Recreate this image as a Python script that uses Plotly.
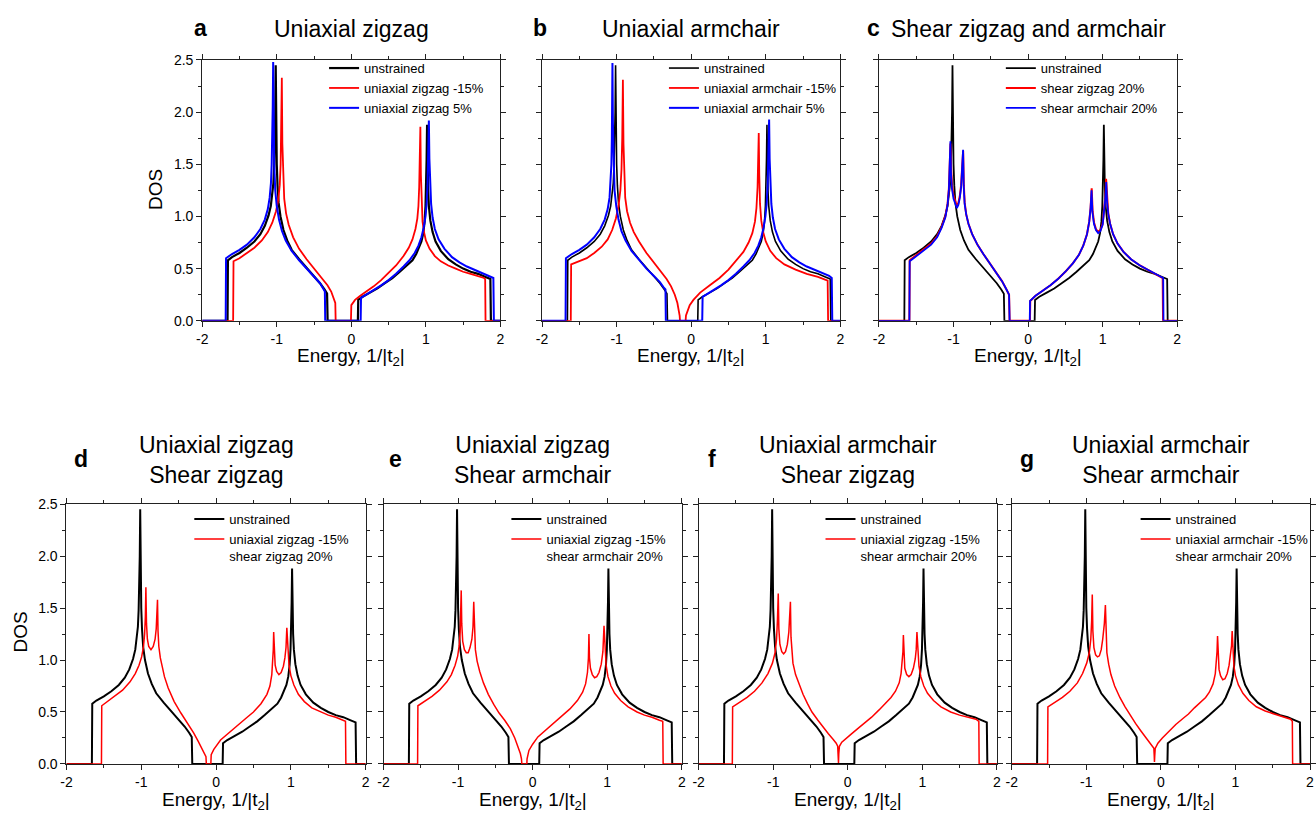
import plotly.graph_objects as go

# ---------------------------------------------------------------------------
# Density of states curves, (energy in 1/|t2|, DOS)
# ---------------------------------------------------------------------------
UNSTRAINED = [
    (-2.00, 0.00), (-1.660, 0.00), (-1.655, 0.58), (-1.60, 0.61), (-1.50, 0.65),
    (-1.40, 0.70), (-1.30, 0.76), (-1.22, 0.83), (-1.16, 0.91), (-1.11, 1.01),
    (-1.08, 1.10), (-1.06, 1.20), (-1.045, 1.32), (-1.035, 1.48), (-1.027, 1.70),
    (-1.020, 2.00), (-1.014, 2.45), (-1.008, 1.85), (-1.000, 1.50), (-0.990, 1.30),
    (-0.975, 1.13), (-0.95, 1.00), (-0.91, 0.87), (-0.86, 0.77), (-0.80, 0.68),
    (-0.70, 0.59), (-0.60, 0.51), (-0.50, 0.43), (-0.42, 0.36), (-0.36, 0.30),
    (-0.325, 0.26), (-0.318, 0.00), (0.088, 0.00), (0.093, 0.20), (0.15, 0.23),
    (0.25, 0.27), (0.35, 0.31), (0.45, 0.36), (0.55, 0.41), (0.65, 0.47),
    (0.75, 0.53), (0.82, 0.58), (0.87, 0.64), (0.91, 0.70), (0.94, 0.76),
    (0.965, 0.84), (0.983, 0.95), (0.995, 1.10), (1.004, 1.32), (1.010, 1.55),
    (1.016, 1.88), (1.022, 1.50), (1.030, 1.25), (1.040, 1.10), (1.06, 0.96),
    (1.09, 0.85), (1.13, 0.76), (1.20, 0.67), (1.30, 0.59), (1.40, 0.54),
    (1.50, 0.50), (1.60, 0.47), (1.70, 0.45), (1.80, 0.42), (1.865, 0.40),
    (1.872, 0.00), (2.00, 0.00),
]

UNIAXIAL_ZZ_M15 = [
    (-2.00, 0.00), (-1.585, 0.00), (-1.580, 0.57), (-1.50, 0.60), (-1.40, 0.65),
    (-1.30, 0.70), (-1.20, 0.77), (-1.12, 0.85), (-1.06, 0.94), (-1.01, 1.05),
    (-0.98, 1.16), (-0.96, 1.30), (-0.948, 1.50), (-0.940, 1.80), (-0.932, 2.33),
    (-0.925, 1.70), (-0.915, 1.35), (-0.90, 1.17), (-0.875, 1.03), (-0.84, 0.92),
    (-0.78, 0.80), (-0.70, 0.69), (-0.60, 0.59), (-0.50, 0.50), (-0.40, 0.42),
    (-0.32, 0.34), (-0.27, 0.28), (-0.235, 0.22), (-0.215, 0.17), (-0.210, 0.00),
    (-0.005, 0.00), (0.000, 0.15), (0.05, 0.20), (0.12, 0.24), (0.20, 0.28),
    (0.30, 0.33), (0.40, 0.39), (0.50, 0.46), (0.60, 0.53), (0.70, 0.62),
    (0.77, 0.70), (0.82, 0.78), (0.86, 0.88), (0.885, 0.98), (0.900, 1.10),
    (0.910, 1.28), (0.918, 1.50), (0.926, 1.86), (0.933, 1.40), (0.942, 1.10),
    (0.955, 0.95), (0.975, 0.85), (1.00, 0.77), (1.05, 0.69), (1.12, 0.62),
    (1.20, 0.57), (1.30, 0.53), (1.40, 0.50), (1.50, 0.47), (1.60, 0.45),
    (1.70, 0.43), (1.78, 0.41), (1.795, 0.40), (1.800, 0.00), (2.00, 0.00),
]

UNIAXIAL_ZZ_P5 = [
    (-2.00, 0.00), (-1.685, 0.00), (-1.680, 0.60), (-1.60, 0.64), (-1.50, 0.68),
    (-1.40, 0.73), (-1.30, 0.80), (-1.22, 0.88), (-1.16, 0.97), (-1.12, 1.07),
    (-1.095, 1.18), (-1.078, 1.32), (-1.068, 1.50), (-1.060, 1.75), (-1.054, 2.05),
    (-1.048, 2.48), (-1.042, 1.90), (-1.034, 1.50), (-1.020, 1.25), (-1.00, 1.10),
    (-0.97, 0.97), (-0.93, 0.86), (-0.88, 0.77), (-0.80, 0.67), (-0.70, 0.58),
    (-0.60, 0.50), (-0.50, 0.43), (-0.42, 0.36), (-0.37, 0.30), (-0.355, 0.28),
    (-0.350, 0.00), (0.125, 0.00), (0.130, 0.22), (0.20, 0.25), (0.30, 0.29),
    (0.40, 0.34), (0.50, 0.39), (0.60, 0.45), (0.70, 0.52), (0.78, 0.58),
    (0.85, 0.65), (0.90, 0.72), (0.94, 0.80), (0.97, 0.89), (0.995, 1.00),
    (1.010, 1.12), (1.022, 1.30), (1.032, 1.55), (1.040, 1.92), (1.047, 1.55),
    (1.055, 1.30), (1.07, 1.12), (1.09, 0.99), (1.12, 0.88), (1.17, 0.78),
    (1.25, 0.69), (1.35, 0.61), (1.45, 0.56), (1.55, 0.52), (1.65, 0.49),
    (1.75, 0.46), (1.85, 0.43), (1.905, 0.41), (1.912, 0.00), (2.00, 0.00),
]

UNIAXIAL_AC_M15 = [
    (-2.00, 0.00), (-1.615, 0.00), (-1.610, 0.54), (-1.50, 0.57), (-1.40, 0.60),
    (-1.30, 0.65), (-1.20, 0.71), (-1.12, 0.78), (-1.06, 0.87), (-1.01, 0.98),
    (-0.975, 1.10), (-0.95, 1.25), (-0.935, 1.45), (-0.925, 1.75), (-0.916, 2.31),
    (-0.908, 1.70), (-0.898, 1.35), (-0.885, 1.18), (-0.86, 1.05), (-0.82, 0.94),
    (-0.77, 0.85), (-0.70, 0.76), (-0.60, 0.65), (-0.50, 0.56), (-0.41, 0.48),
    (-0.33, 0.40), (-0.27, 0.33), (-0.22, 0.25), (-0.185, 0.17), (-0.165, 0.10),
    (-0.155, 0.05), (-0.150, 0.00), (-0.075, 0.00), (-0.070, 0.05), (-0.05, 0.10),
    (-0.02, 0.15), (0.03, 0.20), (0.12, 0.27), (0.25, 0.34), (0.38, 0.41),
    (0.50, 0.49), (0.60, 0.57), (0.70, 0.66), (0.77, 0.75), (0.82, 0.84),
    (0.855, 0.95), (0.875, 1.08), (0.890, 1.28), (0.899, 1.50), (0.906, 1.80),
    (0.913, 1.40), (0.923, 1.12), (0.94, 0.96), (0.965, 0.85), (1.00, 0.76),
    (1.06, 0.67), (1.14, 0.60), (1.25, 0.54), (1.40, 0.49), (1.55, 0.45),
    (1.70, 0.42), (1.80, 0.395), (1.830, 0.385), (1.836, 0.00), (2.00, 0.00),
]

UNIAXIAL_AC_P5 = [
    (-2.00, 0.00), (-1.685, 0.00), (-1.680, 0.60), (-1.60, 0.64), (-1.50, 0.68),
    (-1.40, 0.73), (-1.30, 0.80), (-1.22, 0.88), (-1.16, 0.97), (-1.12, 1.07),
    (-1.095, 1.18), (-1.080, 1.32), (-1.070, 1.50), (-1.064, 1.75), (-1.060, 2.05),
    (-1.056, 2.47), (-1.050, 1.90), (-1.042, 1.50), (-1.028, 1.25), (-1.005, 1.10),
    (-0.975, 0.97), (-0.935, 0.86), (-0.88, 0.77), (-0.80, 0.67), (-0.70, 0.58),
    (-0.60, 0.50), (-0.50, 0.43), (-0.42, 0.37), (-0.37, 0.32), (-0.345, 0.30),
    (-0.340, 0.00), (0.148, 0.00), (0.153, 0.23), (0.22, 0.26), (0.30, 0.29),
    (0.40, 0.34), (0.50, 0.39), (0.60, 0.45), (0.70, 0.52), (0.78, 0.58),
    (0.85, 0.65), (0.90, 0.72), (0.94, 0.80), (0.97, 0.89), (0.995, 1.00),
    (1.012, 1.12), (1.025, 1.30), (1.035, 1.55), (1.045, 1.93), (1.052, 1.55),
    (1.060, 1.30), (1.075, 1.12), (1.095, 0.99), (1.125, 0.88), (1.175, 0.78),
    (1.25, 0.69), (1.35, 0.61), (1.45, 0.56), (1.55, 0.52), (1.65, 0.49),
    (1.75, 0.46), (1.85, 0.43), (1.885, 0.41), (1.892, 0.00), (2.00, 0.00),
]

SHEAR_ZZ_20 = [
    (-2.00, 0.00), (-1.592, 0.00), (-1.588, 0.58), (-1.50, 0.63), (-1.40, 0.68),
    (-1.30, 0.74), (-1.22, 0.81), (-1.16, 0.90), (-1.11, 1.00), (-1.08, 1.12),
    (-1.062, 1.27), (-1.050, 1.45), (-1.041, 1.70), (-1.032, 1.45), (-1.020, 1.30),
    (-1.00, 1.20), (-0.975, 1.13), (-0.955, 1.10), (-0.935, 1.13), (-0.915, 1.20),
    (-0.898, 1.30), (-0.885, 1.42), (-0.871, 1.63), (-0.862, 1.30), (-0.850, 1.13),
    (-0.83, 1.02), (-0.80, 0.93), (-0.75, 0.83), (-0.68, 0.73), (-0.60, 0.64),
    (-0.50, 0.54), (-0.42, 0.46), (-0.35, 0.38), (-0.29, 0.30), (-0.255, 0.25),
    (-0.248, 0.00), (0.025, 0.00), (0.029, 0.19), (0.10, 0.24), (0.20, 0.29),
    (0.30, 0.34), (0.40, 0.40), (0.50, 0.47), (0.60, 0.55), (0.68, 0.63),
    (0.74, 0.72), (0.79, 0.83), (0.82, 0.95), (0.838, 1.08), (0.853, 1.27),
    (0.865, 1.05), (0.885, 0.94), (0.91, 0.88), (0.94, 0.85), (0.97, 0.87),
    (1.00, 0.93), (1.02, 1.05), (1.035, 1.18), (1.046, 1.36), (1.058, 1.15),
    (1.075, 1.03), (1.10, 0.93), (1.14, 0.83), (1.20, 0.74), (1.28, 0.66),
    (1.38, 0.59), (1.50, 0.53), (1.60, 0.49), (1.70, 0.45), (1.78, 0.42),
    (1.805, 0.41), (1.810, 0.00), (2.00, 0.00),
]

SHEAR_AC_20 = [
    (-2.00, 0.00), (-1.592, 0.00), (-1.588, 0.57), (-1.50, 0.62), (-1.40, 0.67),
    (-1.30, 0.73), (-1.22, 0.80), (-1.16, 0.89), (-1.11, 0.99), (-1.08, 1.11),
    (-1.062, 1.26), (-1.050, 1.45), (-1.042, 1.72), (-1.034, 1.42), (-1.022, 1.27),
    (-1.00, 1.17), (-0.975, 1.11), (-0.955, 1.08), (-0.935, 1.11), (-0.915, 1.18),
    (-0.898, 1.28), (-0.885, 1.42), (-0.872, 1.64), (-0.863, 1.28), (-0.851, 1.12),
    (-0.83, 1.02), (-0.80, 0.93), (-0.75, 0.83), (-0.68, 0.73), (-0.60, 0.64),
    (-0.50, 0.54), (-0.42, 0.46), (-0.35, 0.38), (-0.29, 0.30), (-0.255, 0.25),
    (-0.248, 0.00), (0.022, 0.00), (0.026, 0.19), (0.10, 0.24), (0.20, 0.29),
    (0.30, 0.34), (0.40, 0.40), (0.50, 0.47), (0.60, 0.55), (0.68, 0.63),
    (0.74, 0.72), (0.79, 0.83), (0.82, 0.95), (0.838, 1.08), (0.851, 1.25),
    (0.863, 1.04), (0.883, 0.93), (0.91, 0.87), (0.94, 0.84), (0.97, 0.86),
    (1.00, 0.92), (1.02, 1.04), (1.036, 1.17), (1.048, 1.33), (1.059, 1.14),
    (1.076, 1.02), (1.10, 0.93), (1.14, 0.83), (1.20, 0.74), (1.28, 0.66),
    (1.38, 0.59), (1.50, 0.53), (1.60, 0.49), (1.70, 0.45), (1.78, 0.42),
    (1.812, 0.41), (1.816, 0.00), (2.00, 0.00),
]

UZZ_SZZ = [
    (-2.00, 0.00), (-1.532, 0.00), (-1.528, 0.56), (-1.45, 0.60), (-1.35, 0.65),
    (-1.25, 0.71), (-1.15, 0.79), (-1.08, 0.87), (-1.03, 0.95), (-0.995, 1.03),
    (-0.970, 1.13), (-0.955, 1.25), (-0.945, 1.42), (-0.938, 1.70), (-0.930, 1.35),
    (-0.918, 1.20), (-0.90, 1.13), (-0.87, 1.10), (-0.84, 1.13), (-0.815, 1.20),
    (-0.800, 1.30), (-0.790, 1.42), (-0.783, 1.58), (-0.776, 1.28), (-0.765, 1.13),
    (-0.745, 1.02), (-0.72, 0.93), (-0.69, 0.84), (-0.64, 0.73), (-0.56, 0.60),
    (-0.47, 0.49), (-0.38, 0.39), (-0.30, 0.30), (-0.24, 0.22), (-0.19, 0.15),
    (-0.155, 0.10), (-0.135, 0.07), (-0.130, 0.00), (-0.070, 0.00), (-0.065, 0.09),
    (-0.03, 0.14), (0.06, 0.23), (0.17, 0.30), (0.28, 0.37), (0.40, 0.44),
    (0.50, 0.50), (0.60, 0.58), (0.68, 0.67), (0.72, 0.75), (0.745, 0.86),
    (0.758, 0.98), (0.765, 1.10), (0.770, 1.27), (0.777, 1.05), (0.790, 0.95),
    (0.81, 0.89), (0.84, 0.86), (0.87, 0.88), (0.90, 0.94), (0.92, 1.02),
    (0.935, 1.12), (0.946, 1.31), (0.957, 1.10), (0.975, 0.95), (1.00, 0.85),
    (1.04, 0.76), (1.10, 0.67), (1.18, 0.60), (1.28, 0.54), (1.40, 0.50),
    (1.50, 0.47), (1.60, 0.45), (1.70, 0.42), (1.730, 0.41), (1.735, 0.00),
    (2.00, 0.00),
]

UZZ_SAC = [
    (-2.00, 0.00), (-1.543, 0.00), (-1.539, 0.56), (-1.45, 0.60), (-1.35, 0.65),
    (-1.25, 0.71), (-1.15, 0.79), (-1.09, 0.86), (-1.04, 0.95), (-1.005, 1.04),
    (-0.985, 1.14), (-0.972, 1.27), (-0.964, 1.45), (-0.958, 1.67), (-0.951, 1.35),
    (-0.938, 1.18), (-0.915, 1.10), (-0.89, 1.07), (-0.865, 1.07), (-0.84, 1.12),
    (-0.815, 1.20), (-0.800, 1.32), (-0.790, 1.56), (-0.782, 1.25), (-0.768, 1.10),
    (-0.745, 0.99), (-0.71, 0.89), (-0.66, 0.78), (-0.595, 0.67), (-0.52, 0.57),
    (-0.45, 0.49), (-0.375, 0.42), (-0.30, 0.34), (-0.24, 0.25), (-0.197, 0.17),
    (-0.165, 0.10), (-0.150, 0.05), (-0.145, 0.00), (-0.078, 0.00), (-0.075, 0.05),
    (-0.05, 0.13), (0.00, 0.19), (0.07, 0.26), (0.15, 0.31), (0.25, 0.37),
    (0.335, 0.42), (0.42, 0.48), (0.50, 0.53), (0.60, 0.61), (0.67, 0.69),
    (0.71, 0.77), (0.735, 0.88), (0.748, 1.02), (0.755, 1.25), (0.762, 1.02),
    (0.775, 0.92), (0.80, 0.86), (0.83, 0.83), (0.86, 0.84), (0.89, 0.88),
    (0.92, 0.96), (0.942, 1.08), (0.957, 1.33), (0.968, 1.10), (0.985, 0.95),
    (1.01, 0.84), (1.05, 0.75), (1.10, 0.68), (1.18, 0.61), (1.28, 0.55),
    (1.40, 0.50), (1.50, 0.47), (1.60, 0.45), (1.70, 0.42), (1.745, 0.41),
    (1.750, 0.00), (2.00, 0.00),
]

UAC_SZZ = [
    (-2.00, 0.00), (-1.548, 0.00), (-1.544, 0.55), (-1.45, 0.59), (-1.35, 0.64),
    (-1.25, 0.70), (-1.15, 0.78), (-1.07, 0.87), (-1.01, 0.97), (-0.975, 1.07),
    (-0.955, 1.20), (-0.943, 1.38), (-0.932, 1.64), (-0.924, 1.30), (-0.910, 1.15),
    (-0.885, 1.08), (-0.86, 1.06), (-0.835, 1.08), (-0.81, 1.15), (-0.790, 1.27),
    (-0.777, 1.40), (-0.769, 1.56), (-0.761, 1.22), (-0.750, 1.07), (-0.735, 0.97),
    (-0.70, 0.86), (-0.66, 0.78), (-0.60, 0.67), (-0.54, 0.58), (-0.48, 0.50),
    (-0.40, 0.42), (-0.33, 0.35), (-0.26, 0.29), (-0.20, 0.24), (-0.155, 0.20),
    (-0.135, 0.17), (-0.128, 0.10), (-0.124, 0.01), (-0.120, 0.10), (-0.112, 0.17),
    (-0.08, 0.21), (-0.02, 0.25), (0.05, 0.29), (0.15, 0.35), (0.25, 0.41),
    (0.32, 0.45), (0.42, 0.52), (0.50, 0.58), (0.58, 0.64), (0.64, 0.70),
    (0.69, 0.78), (0.715, 0.87), (0.730, 0.97), (0.740, 1.08), (0.746, 1.24),
    (0.753, 1.02), (0.765, 0.92), (0.79, 0.86), (0.82, 0.84), (0.85, 0.86),
    (0.88, 0.92), (0.905, 1.01), (0.918, 1.10), (0.928, 1.27), (0.938, 1.08),
    (0.955, 0.94), (0.98, 0.84), (1.02, 0.75), (1.07, 0.68), (1.15, 0.61),
    (1.25, 0.55), (1.38, 0.50), (1.50, 0.47), (1.62, 0.45), (1.72, 0.43),
    (1.758, 0.41), (1.762, 0.00), (2.00, 0.00),
]

UAC_SAC = [
    (-2.00, 0.00), (-1.519, 0.00), (-1.515, 0.55), (-1.42, 0.59), (-1.32, 0.64),
    (-1.22, 0.70), (-1.12, 0.78), (-1.05, 0.87), (-0.995, 0.97), (-0.960, 1.07),
    (-0.940, 1.20), (-0.928, 1.38), (-0.920, 1.63), (-0.912, 1.28), (-0.898, 1.12),
    (-0.875, 1.05), (-0.85, 1.03), (-0.825, 1.04), (-0.80, 1.10), (-0.78, 1.20),
    (-0.758, 1.35), (-0.744, 1.53), (-0.736, 1.22), (-0.724, 1.07), (-0.70, 0.96),
    (-0.67, 0.86), (-0.62, 0.75), (-0.55, 0.64), (-0.48, 0.55), (-0.42, 0.48),
    (-0.34, 0.39), (-0.27, 0.32), (-0.206, 0.26), (-0.15, 0.21), (-0.11, 0.17),
    (-0.094, 0.15), (-0.089, 0.08), (-0.086, 0.02), (-0.082, 0.08), (-0.076, 0.15),
    (-0.04, 0.20), (0.02, 0.25), (0.104, 0.31), (0.20, 0.38), (0.30, 0.44),
    (0.37, 0.48), (0.45, 0.54), (0.53, 0.59), (0.60, 0.64), (0.65, 0.69),
    (0.70, 0.77), (0.730, 0.87), (0.745, 0.98), (0.753, 1.08), (0.760, 1.23),
    (0.767, 1.02), (0.780, 0.91), (0.80, 0.85), (0.83, 0.81), (0.86, 0.82),
    (0.89, 0.87), (0.915, 0.95), (0.935, 1.05), (0.948, 1.14), (0.956, 1.28),
    (0.965, 1.08), (0.98, 0.94), (1.00, 0.85), (1.04, 0.76), (1.10, 0.68),
    (1.18, 0.61), (1.28, 0.55), (1.40, 0.51), (1.52, 0.48), (1.64, 0.45),
    (1.74, 0.43), (1.763, 0.41), (1.767, 0.00), (2.00, 0.00),
]

X_TICKS = [-2, -1, 0, 1, 2]
X_TICK_TEXT = ["-2", "-1", "0", "1", "2"]
Y_TICKS = [0.0, 0.5, 1.0, 1.5, 2.0, 2.5]
Y_TICK_TEXT = ["0.0", "0.5", "1.0", "1.5", "2.0", "2.5"]

BLACK, RED, BLUE = "#000000", "#ff0000", "#0000ff"

# panel: letter, title, pixel box (left, right, top, bottom), curves
PANELS = [
    ("a", "Uniaxial zigzag", (198, 499, 53, 319), [
        ("unstrained", UNSTRAINED, BLACK, 2.2),
        ("uniaxial zigzag -15%", UNIAXIAL_ZZ_M15, RED, 1.8),
        ("uniaxial zigzag 5%", UNIAXIAL_ZZ_P5, BLUE, 2.0)]),
    ("b", "Uniaxial armchair", (541, 842, 53, 319), [
        ("unstrained", UNSTRAINED, BLACK, 1.6),
        ("uniaxial armchair -15%", UNIAXIAL_AC_M15, RED, 1.8),
        ("uniaxial armchair 5%", UNIAXIAL_AC_P5, BLUE, 2.0)]),
    ("c", "Shear zigzag and armchair", (881, 1182, 53, 319), [
        ("unstrained", UNSTRAINED, BLACK, 1.8),
        ("shear zigzag 20%", SHEAR_ZZ_20, RED, 2.0),
        ("shear armchair 20%", SHEAR_AC_20, BLUE, 1.8)]),
    ("d", "Uniaxial zigzag<br>Shear zigzag", (61, 363, 506, 771), [
        ("unstrained", UNSTRAINED, BLACK, 2.0),
        ("uniaxial zigzag -15%<br>shear zigzag 20%", UZZ_SZZ, RED, 1.5)]),
    ("e", "Uniaxial zigzag<br>Shear armchair", (381, 682, 506, 771), [
        ("unstrained", UNSTRAINED, BLACK, 2.0),
        ("uniaxial zigzag -15%<br>shear armchair 20%", UZZ_SAC, RED, 1.5)]),
    ("f", "Uniaxial armchair<br>Shear zigzag", (699, 1000, 506, 771), [
        ("unstrained", UNSTRAINED, BLACK, 2.0),
        ("uniaxial zigzag -15%<br>shear armchair 20%", UAC_SZZ, RED, 1.5)]),
    ("g", "Uniaxial armchair<br>Shear armchair", (1015, 1316, 506, 771), [
        ("unstrained", UNSTRAINED, BLACK, 2.0),
        ("uniaxial armchair -15%<br>shear armchair 20%", UAC_SAC, RED, 1.5)]),
]

W, H = 1316, 820
FONT = "Liberation Sans, Arial, sans-serif"


def px(x):
    return x / W


def py(y):
    return 1 - y / H


def label(text, x, y, size, angle=0):
    return dict(text=text, x=px(x), y=py(y), xref="paper", yref="paper",
                xanchor="center", yanchor="middle", showarrow=False,
                textangle=angle, font=dict(family=FONT, size=size, color="black"))


fig = go.Figure()
layout = dict(
    width=W, height=H, margin=dict(l=0, r=0, t=0, b=0),
    paper_bgcolor="white", plot_bgcolor="white",
    font=dict(family=FONT, color="black"),
    annotations=[],
)

LEGEND_LEFT = {"a": 321, "b": 664, "c": 1004, "d": 185, "e": 505, "f": 822, "g": 1140}
LETTER_X = {"a": 196, "b": 539, "c": 875, "d": 76, "e": 393, "f": 712, "g": 1030}

for i, (letter, title, (x0, x1, y0, y1), curves) in enumerate(PANELS):
    n = i + 1
    xa, ya = ("x", "y") if n == 1 else (f"x{n}", f"y{n}")
    legend_id = "legend" if n == 1 else f"legend{n}"
    for name, pts, color, width in curves:
        fig.add_trace(go.Scatter(
            x=[p[0] for p in pts], y=[p[1] for p in pts], mode="lines",
            name=name, line=dict(color=color, width=width),
            xaxis=xa, yaxis=ya, legend=legend_id,
        ))

    first_in_row = letter in ("a", "d")
    axis_common = dict(
        showgrid=False, zeroline=False, showline=True, linecolor="#222",
        linewidth=1, mirror="allticks", ticks="outside", ticklen=5,
        tickcolor="#222", tickfont=dict(family=FONT, size=14, color="black"),
    )
    suffix = "" if n == 1 else str(n)
    layout[f"xaxis{suffix}"] = dict(
        axis_common, domain=[px(x0), px(x1)], range=[-2, 2],
        anchor=ya, tickvals=X_TICKS, ticktext=X_TICK_TEXT,
        minor=dict(tickvals=[-1.5, -0.5, 0.5, 1.5], ticks="outside",
                   ticklen=3, tickcolor="#222"),
    )
    layout[f"yaxis{suffix}"] = dict(
        axis_common, domain=[py(y1), py(y0)], range=[0, 2.5],
        anchor=xa, tickvals=Y_TICKS, ticktext=Y_TICK_TEXT,
        showticklabels=first_in_row,
        minor=dict(tickvals=[0.25, 0.75, 1.25, 1.75, 2.25], ticks="outside",
                   ticklen=3, tickcolor="#222"),
    )

    top_row = y0 < 400
    # legend tucked into the upper right of the panel
    layout[legend_id] = dict(
        x=px(LEGEND_LEFT[letter]), y=py(46 if top_row else 506),
        xanchor="left", yanchor="top",
        bgcolor="rgba(0,0,0,0)", borderwidth=0, valign="top",
        font=dict(family=FONT, size=13, color="black"),
        tracegroupgap=0, itemwidth=30,
    )

    cx = (x0 + x1) / 2
    if top_row:
        layout["annotations"].append(label(title, cx, 21, 23))
        layout["annotations"].append(label(f"<b>{letter}</b>", LETTER_X[letter], 20, 23))
        ax_title_y = 356
    else:
        layout["annotations"].append(label(title, cx, 461, 23))
        layout["annotations"].append(label(f"<b>{letter}</b>", LETTER_X[letter], 460, 23))
        ax_title_y = 809
    layout["annotations"].append(label("Energy, 1/|t<sub>2</sub>|", cx, ax_title_y, 19))

layout["annotations"].append(label("DOS", 151, 185, 19, -90))
layout["annotations"].append(label("DOS", 15, 636, 19, -90))

fig.update_layout(layout)
fig.write_html("out.html")
